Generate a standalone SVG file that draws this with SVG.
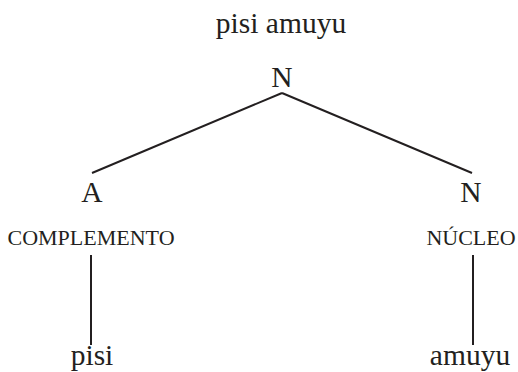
<svg xmlns="http://www.w3.org/2000/svg" width="518" height="372" viewBox="0 0 518 372">
<style>
text{font-family:"Liberation Serif","Times New Roman",serif;fill:#231f20;text-anchor:middle}
.big{font-size:29.5px}
.sc{font-size:22px}
.ln{stroke:#231f20;stroke-width:2;fill:none;stroke-linecap:butt}
</style>
<rect width="518" height="372" fill="#fff"/>
<g id="title"><text class="big" x="281" y="33">pisi amuyu</text></g>
<g id="nodeN"><text class="big" x="282" y="87">N</text></g>
<g id="nodeA"><text class="big" x="92" y="202">A</text><text class="sc" x="91" y="245">COMPLEMENTO</text></g>
<g id="nodeN2"><text class="big" x="471" y="202">N</text><text class="sc" x="471" y="245">NÚCLEO</text></g>
<g id="leafPisi"><text class="big" x="92" y="365">pisi</text></g>
<g id="leafAmuyu"><text class="big" x="470" y="365">amuyu</text></g>
<g id="connectors">
<line class="ln" x1="282" y1="93" x2="92" y2="173"/>
<line class="ln" x1="282" y1="93" x2="472" y2="173"/>
<line class="ln" x1="91" y1="255" x2="91" y2="345"/>
<line class="ln" x1="473" y1="255" x2="473" y2="345"/>
</g>
</svg>
